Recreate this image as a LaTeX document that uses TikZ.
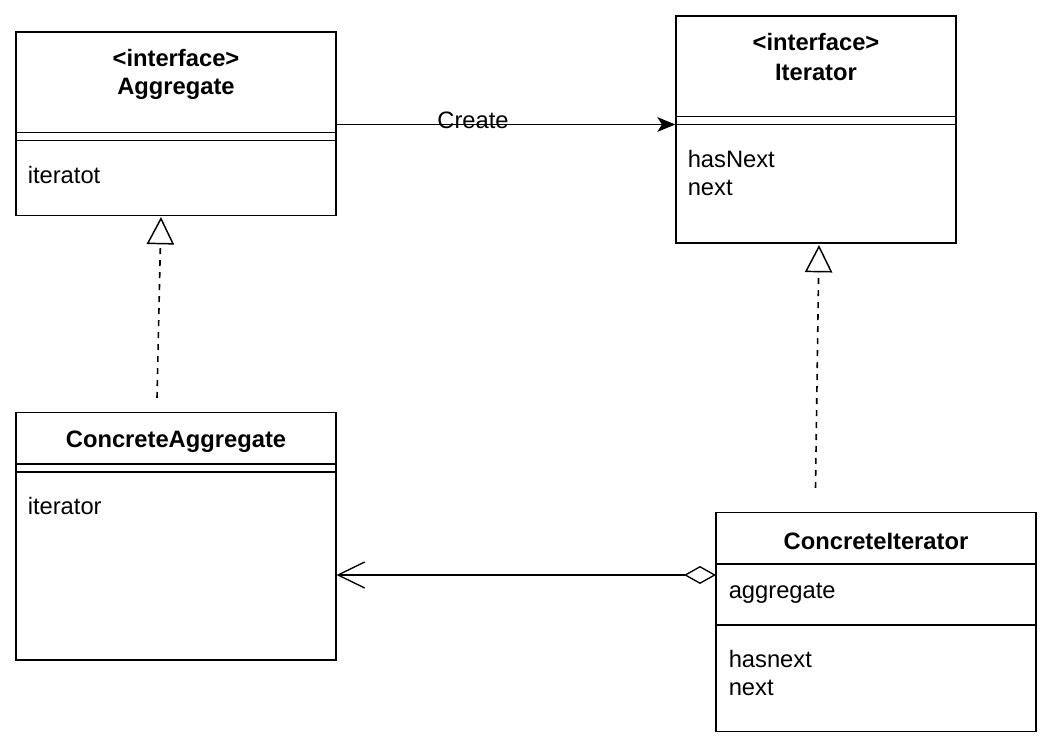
\documentclass[tikz,border=0pt]{standalone}
\usepackage{fontspec}
\setmainfont{Liberation Sans}
\usetikzlibrary{arrows.meta,calc}
\begin{document}
\begin{tikzpicture}[x=0.75pt,y=-0.75pt,
  classbox/.style={draw=black,line width=1pt,inner sep=0,fill=white},
  sepline/.style={line width=1pt},
  txt/.style={font=\fontsize{17.8}{21}\selectfont,inner sep=0},
  title/.style={txt,font=\fontsize{17.8}{21}\selectfont\bfseries,align=center},
  realize/.style={line width=1.2pt,dash pattern=on 4.5pt off 4.5pt,
    -{Triangle[open,length=20.5pt,width=20.5pt,line width=1.1pt]}},
  create/.style={line width=1pt,-{Stealth[length=13.5pt,width=11pt,inset=3.5pt]}},
  aggr/.style={line width=1pt,{Diamond[open,length=24pt,width=13.5pt,line width=1pt]}-{Straight Barb[length=20pt,width=19.5pt,line width=1pt]}}
]
\useasboundingbox (0,0) rectangle (1054,755);

% class boxes
\node[classbox,minimum width=320*0.75pt,minimum height=183.5*0.75pt] (agg) at (176,123.75) {};
\node[classbox,minimum width=280*0.75pt,minimum height=227*0.75pt] (itr) at (816,129.5) {};
\node[classbox,minimum width=320*0.75pt,minimum height=247.5*0.75pt] (cagg) at (176,536.25) {};
\node[classbox,minimum width=320*0.75pt,minimum height=219*0.75pt] (citr) at (876,622) {};

% compartment separators
\draw[sepline] (16,132.5) -- (336,132.5) (16,140.5) -- (336,140.5);
\draw[sepline] (676,116.5) -- (956,116.5) (676,124.5) -- (956,124.5);
\draw[sepline] (16,464) -- (336,464) (16,472) -- (336,472);
\draw[sepline] (716,564) -- (1036,564) (716,625) -- (1036,625);

% titles
\node[title] (aggT) at (176,74) {<interface>\\Aggregate};
\node[title,font=\fontsize{17.8}{22}\selectfont\bfseries] (itrT) at (816,57) {<interface>\\Iterator};
\node[title] (caggT) at (176,441.5) {ConcreteAggregate};
\node[title] (citrT) at (876,541) {ConcreteIterator};

% members
\node[txt,anchor=base west] (aggOp) at (27.5,184) {iteratot};
\node[txt,anchor=base west] (itrOp1) at (687.5,168) {hasNext};
\node[txt,anchor=base west] (itrOp2) at (687.5,195.5) {next};
\node[txt,anchor=base west] (caggOp) at (27.5,515) {iterator};
\node[txt,anchor=base west] (citrAt) at (728.5,598.5) {aggregate};
\node[txt,anchor=base west] (citrOp1) at (728.5,667.5) {hasnext};
\node[txt,anchor=base west] (citrOp2) at (728.5,695) {next};

% connector end points
\coordinate (aggTip) at (161,217);
\coordinate (caggFoot) at (157,398);
\coordinate (itrTip) at (819,245);
\coordinate (citrFoot) at (815.5,488);
\coordinate (aggrStart) at (716,575);
\coordinate (aggrEnd) at (336.5,575);

% connectors
\draw[create] (agg.east |- 0,124.5) -- (itr.west |- 0,124.5);
\node[txt] (createText) at (473,120.5) {Create};
\draw[realize] (caggFoot) -- (aggTip);
\draw[realize] (citrFoot) -- (itrTip);
\draw[aggr] (aggrStart) -- (aggrEnd);
\end{tikzpicture}
\end{document}
